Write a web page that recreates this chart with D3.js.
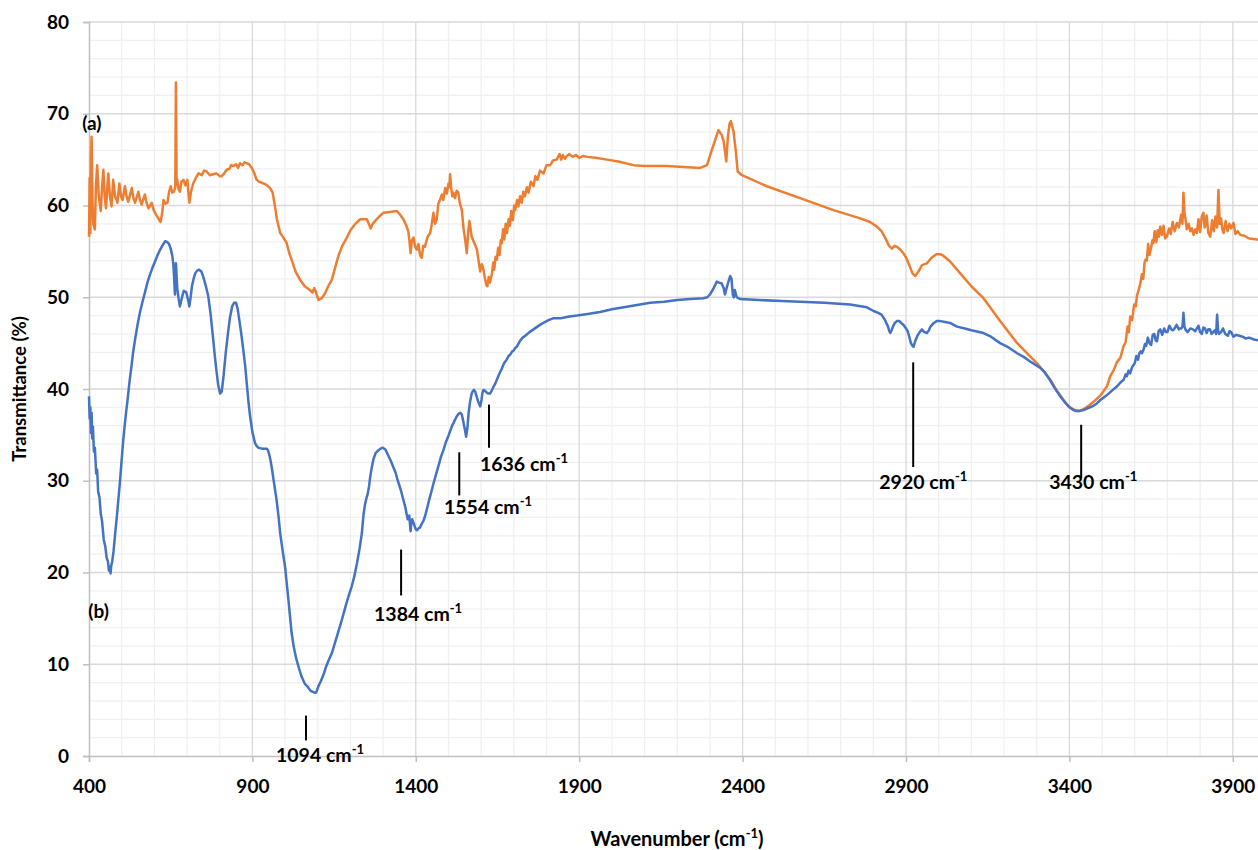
<!DOCTYPE html>
<html><head><meta charset="utf-8">
<script src="https://cdn.jsdelivr.net/npm/d3@7"></script>
<style>
html,body{margin:0;padding:0;background:#fff;overflow:hidden}
text{font-family:Lato,"Open Sans",sans-serif;font-weight:700;fill:#000}
</style></head>
<body>
<svg id="chart" width="1258" height="850"></svg>
<script>
// ---- DATA ----
const xTicks = [400, 900, 1400, 1900, 2400, 2900, 3400, 3900];
const yTicks = [0, 10, 20, 30, 40, 50, 60, 70, 80];

// (a) orange spectrum
const waveA = [400,402,404,406,408,411,413,418,421,425,430,436,440,444,448,452,456,459,464,469,474,480,487,493,498,503,510,515,520,531,536,541,551,556,561,571,576,582,592,598,605,612,619,624,628,634,640,645,650,655,660,664,666,668,670,674,678,683,689,695,701,704,707,712,719,727,735,745,752,760,770,780,790,800,806,814,821,830,835,842,850,856,862,870,876,883,890,898,905,913,920,934,945,954,962,969,975,985,995,1005,1012,1020,1032,1046,1060,1076,1084,1089,1094,1102,1112,1122,1132,1143,1153,1163,1175,1189,1200,1215,1230,1242,1250,1256,1262,1268,1275,1288,1301,1320,1342,1352,1362,1370,1377,1381,1384,1388,1393,1398,1403,1408,1413,1418,1423,1428,1436,1444,1449,1454,1459,1464,1469,1474,1480,1484,1490,1495,1500,1503,1505,1508,1512,1515,1520,1525,1530,1535,1541,1546,1551,1556,1560,1564,1567,1571,1578,1587,1592,1597,1602,1607,1612,1616,1619,1623,1627,1633,1637,1640,1644,1648,1652,1656,1660,1663,1667,1671,1675,1679,1684,1688,1692,1697,1701,1704,1710,1714,1719,1724,1729,1734,1740,1745,1752,1760,1766,1772,1780,1791,1800,1811,1820,1831,1840,1845,1850,1856,1862,1870,1880,1890,1900,1913,1925,1950,1985,2020,2066,2100,2168,2220,2270,2291,2311,2326,2336,2342,2350,2355,2360,2364,2372,2379,2385,2398,2474,2576,2678,2760,2790,2811,2825,2836,2848,2857,2865,2872,2882,2892,2902,2911,2920,2928,2938,2949,2964,2978,2993,3005,3015,3035,3066,3100,3137,3188,3240,3270,3301,3342,3362,3382,3400,3418,3430,3443,3460,3474,3495,3515,3525,3535,3545,3556,3565,3572,3578,3582,3586,3592,3598,3603,3607,3612,3617,3622,3626,3630,3633,3637,3641,3645,3650,3654,3657,3661,3666,3670,3674,3678,3683,3688,3693,3698,3705,3710,3716,3722,3729,3735,3742,3746,3749,3752,3755,3759,3765,3770,3775,3780,3785,3790,3795,3800,3805,3810,3814,3820,3825,3831,3837,3842,3847,3852,3856,3860,3864,3868,3872,3878,3884,3890,3895,3902,3908,3915,3923,3935,3950,3974,4000];
const transA = [56.6,63,57,65,67.5,60,58,57.4,62,64.4,61,59.4,62,63.9,61,59.7,62,63.5,61,59.9,62.8,61,60.3,62.4,61,60.6,62.1,61,60.4,61.9,60.8,60.3,61.5,60.6,60.1,61.2,60.3,59.7,60.3,59.5,59.0,58.6,58.2,59.2,60.6,60.2,60.3,61.5,62.1,61.4,61.5,62,73.4,62.3,62.8,61.8,61.5,62.6,62.8,62.2,62.8,61.5,60.3,61.5,62.4,63.0,63.5,63.3,63.8,63.7,63.3,63.4,63.5,63.2,63.2,63.5,63.9,64.0,64.4,64.3,64.5,64.1,64.6,64.4,64.7,64.6,64.5,64.1,63.6,62.8,62.6,62.4,62.2,61.9,61.4,59.9,58.5,57.0,56.5,55.9,54.9,54.1,52.8,51.9,51.2,50.8,50.5,51.0,50.6,49.7,49.9,50.4,51.2,51.9,53.2,54.5,55.6,56.5,57.3,58.0,58.5,58.5,58.5,58.0,57.5,58.0,58.3,58.8,59.2,59.3,59.4,59.0,58.5,57.9,57.2,56.0,54.8,56.2,56.5,55.5,55.2,55.8,54.6,54.3,55.6,55.5,56.6,57.0,58.0,59.2,58.0,58.5,60.2,60.6,61.2,60.6,61.9,61.3,62.4,62.0,63.4,62.0,61.0,61.4,60.8,61.6,61.4,60.2,59.5,57.5,56.3,54.8,57.0,58.3,57.6,56.6,56.0,55.2,54.0,52.8,53.6,53.0,52.0,51.3,51.2,52.2,51.6,52.6,53.8,53.0,54.4,54.1,55.4,54.6,56.2,55.9,57.4,56.3,58.0,57.0,58.5,57.8,59.4,58.4,60.0,59.5,60.6,59.9,61.0,60.3,61.5,61.0,62.0,61.4,62.6,62.1,63.2,62.8,63.8,63.5,64.4,64.4,64.9,65.0,65.6,65.0,65.5,65.1,65.4,65.6,65.3,65.5,65.2,65.4,65.3,65.2,65.0,64.8,64.4,64.3,64.3,64.2,64.1,64.4,66.6,68.2,67.7,67.0,64.8,67.5,68.9,69.2,68.1,66.0,63.7,63.3,62.1,60.8,59.5,58.6,58.2,57.7,57.2,56.5,55.6,55.3,55.6,55.5,55.2,54.8,54.2,53.4,52.6,52.3,52.8,53.5,53.7,54.3,54.7,54.7,54.5,53.9,52.6,51.2,49.9,47.4,45.0,43.9,42.8,41.0,39.8,38.8,38.0,37.7,37.6,37.8,38.2,38.6,39.3,40.3,41.4,42.0,42.9,43.4,44.6,45.1,46.8,46.2,47.9,47.5,49.2,49.0,50.2,50.8,51.5,52.5,52.0,53.8,54.1,54.0,55.8,54.6,55.4,56.2,55.9,57.2,56.0,57.3,56.6,57.7,56.8,57.8,56.4,56.6,57.5,56.9,58.2,57.2,58.1,57.6,59.0,58.0,61.4,59.2,58.6,57.4,58.0,57.2,57.5,56.8,57.4,57.0,58.5,57.1,58.8,59.2,57.6,58.9,57.0,56.6,58.4,57.2,58.8,57.6,61.7,58.0,58.6,57.4,57.0,58.3,57.2,58.0,57.5,58.1,56.9,57.2,56.8,56.7,56.4,56.3,56.2];

// (b) blue spectrum
const waveB = [400,402,404,406,408,410,412,415,418,422,425,428,432,436,440,445,450,454,458,461,464,466,468,471,475,480,485,490,495,500,505,512,518,524,530,535,541,548,555,563,571,578,585,593,602,610,618,626,633,640,645,650,655,658,660,663,666,668,670,674,678,682,686,690,694,697,700,704,707,711,715,720,725,731,737,744,750,757,765,772,780,785,790,795,801,806,812,818,825,831,838,844,850,855,860,866,872,878,883,888,893,900,908,913,918,930,944,948,952,955,959,966,974,980,985,992,1000,1010,1020,1027,1035,1043,1051,1060,1070,1078,1085,1090,1095,1102,1110,1118,1125,1134,1143,1154,1165,1175,1185,1195,1204,1212,1220,1228,1235,1240,1245,1249,1253,1257,1260,1265,1270,1277,1285,1292,1299,1307,1315,1323,1331,1338,1345,1354,1362,1368,1375,1380,1384,1387,1389,1393,1397,1400,1404,1408,1413,1418,1423,1428,1434,1440,1447,1454,1462,1470,1477,1485,1492,1500,1510,1518,1525,1531,1536,1541,1545,1550,1554,1558,1562,1566,1571,1575,1578,1582,1586,1591,1597,1601,1604,1607,1612,1617,1622,1627,1632,1637,1642,1648,1655,1663,1670,1678,1684,1690,1695,1700,1705,1709,1715,1720,1727,1735,1748,1760,1772,1785,1795,1806,1820,1842,1855,1870,1893,1910,1930,1964,2000,2050,2117,2160,2200,2240,2280,2292,2300,2310,2321,2328,2336,2342,2346,2351,2355,2362,2366,2370,2373,2376,2379,2382,2387,2393,2450,2520,2576,2650,2729,2780,2801,2815,2825,2836,2845,2849,2852,2856,2860,2866,2872,2880,2885,2892,2900,2905,2910,2915,2920,2923,2928,2935,2942,2949,2953,2957,2964,2970,2975,2985,2994,3005,3020,3035,3056,3080,3100,3137,3160,3188,3215,3240,3260,3280,3311,3325,3340,3355,3372,3385,3395,3405,3413,3420,3430,3443,3456,3470,3483,3495,3510,3520,3533,3546,3556,3566,3572,3576,3581,3586,3592,3600,3605,3610,3614,3618,3622,3627,3631,3635,3640,3645,3650,3655,3660,3664,3668,3673,3678,3684,3690,3695,3700,3706,3712,3716,3720,3728,3735,3738,3742,3746,3749,3752,3755,3762,3770,3778,3785,3790,3795,3800,3805,3810,3815,3820,3825,3830,3835,3840,3845,3849,3852,3855,3858,3864,3870,3877,3885,3890,3895,3902,3910,3920,3930,3940,3950,3965,3980,4000];
const transB = [39.2,36.8,38.0,35.2,37.4,34.6,35.9,33.2,33.6,30.8,31.2,28.8,28.2,26.4,25.6,23.6,22.8,21.6,21.2,20.2,20.6,19.9,20.7,21.2,22.3,24.2,26.0,28.0,30.0,32.3,34.5,37.0,38.8,40.8,42.5,44.0,45.4,46.9,48.2,49.4,50.5,51.5,52.3,53.1,53.9,54.6,55.2,55.7,56.1,56.0,55.8,55.3,54.5,53.6,52.5,50.3,53.7,52.4,51.0,49.9,49.0,49.6,50.2,50.7,50.6,50.6,50.2,49.6,49.0,50.0,51.2,52.0,52.6,52.9,53.0,52.8,52.2,51.3,50.1,48.2,45.4,43.6,42.0,40.5,39.5,39.7,41.5,43.8,46.0,47.7,49.0,49.4,49.4,48.7,47.5,46.0,44.3,42.5,40.5,38.6,37.0,35.3,34.1,33.8,33.6,33.5,33.5,33.3,32.8,32.3,31.5,29.8,27.9,26.1,24.3,22.5,20.6,17.1,13.4,11.8,10.5,9.5,8.6,7.9,7.5,7.1,7.0,6.9,6.9,7.6,8.2,8.9,9.7,10.5,11.2,12.5,13.8,15.0,16.3,17.5,18.5,19.6,21.0,22.6,24.3,26.3,27.5,28.1,28.6,29.4,30.3,31.4,32.3,33.0,33.3,33.5,33.6,33.4,32.8,32.2,31.5,30.9,30.0,29.0,27.9,27.1,25.8,26.2,24.5,25.6,25.8,25.4,25.0,24.7,24.6,24.8,24.9,25.3,25.6,26.1,26.9,27.8,28.7,29.7,30.7,31.7,32.6,33.4,34.2,34.9,35.9,36.5,37.0,37.3,37.4,37.2,36.5,35.6,34.8,35.8,37.5,38.6,39.5,39.8,39.9,39.7,39.2,38.6,38.1,38.8,39.6,39.9,39.8,39.6,39.5,39.5,39.8,40.2,40.5,41.0,41.6,42.2,42.8,43.2,43.6,43.8,44.1,44.2,44.5,44.6,45.0,45.3,45.6,45.8,46.2,46.5,46.8,47.1,47.3,47.5,47.7,47.7,47.8,47.9,48.0,48.1,48.2,48.4,48.7,49.0,49.4,49.5,49.7,49.8,49.9,50.0,50.3,50.9,51.7,51.6,51.5,51.0,50.3,51.0,51.5,52.3,52.0,50.3,50.0,50.8,50.4,50.0,49.9,49.8,49.7,49.6,49.5,49.4,49.2,48.9,48.5,48.3,48.1,47.5,46.8,46.3,46.1,46.4,46.8,47.2,47.4,47.4,47.2,47.0,46.6,46.3,45.7,45.0,44.7,44.6,45.2,45.8,46.2,46.5,46.3,46.2,46.1,46.4,46.8,47.2,47.4,47.4,47.3,47.2,46.8,46.6,46.4,46.1,45.7,45.0,44.5,43.9,43.5,43.0,42.3,41.8,41.0,40.1,39.2,38.6,38.2,37.9,37.7,37.6,37.6,37.7,37.9,38.1,38.4,38.8,39.2,39.5,39.9,40.3,40.7,41.0,41.6,41.4,42.0,41.7,42.4,42.8,43.6,43.2,43.9,44.1,43.9,44.3,44.9,44.7,45.6,45.0,44.8,45.9,46.0,45.3,45.2,46.3,46.5,45.9,46.6,46.2,46.2,46.9,46.5,46.4,46.5,47.0,46.5,46.6,46.6,46.8,48.3,46.8,46.5,46.2,46.6,46.5,46.3,46.6,46.9,46.2,46.0,46.7,46.6,46.1,46.5,46.5,46.0,46.2,46.4,46.0,48.1,46.4,46.0,46.2,46.6,46.0,45.8,46.3,46.2,45.7,45.9,45.8,45.7,45.5,45.6,45.4,45.3,45.2];

// peak annotations
const annoLabels = ["1094", "1384", "1554", "1636", "2920", "3430"];
const annoLineWave = [1064, 1355, 1533, 1624, 2922, 3436];
const annoLineTop = [4.4, 22.5, 33.1, 38.3, 42.9, 36.1];
const annoLineBottom = [1.7, 17.5, 28.4, 33.6, 31.5, 30.3];
const annoTextWave = [1107, 1407, 1621, 1731, 2953, 3473];
const annoTextValue = [0.1, 15.5, 27.1, 31.8, 29.9, 29.9];

const seriesLabels = ["(a)", "(b)"];
const seriesLabelWave = [379, 398];
const seriesLabelValue = [68.2, 15.0];

// ---- CHART ----
const svg = d3.select("#chart");
const plotLeft = 89, plotTop = 22, plotBottom = 756;
const x = d3.scaleLinear().domain([400, 4000]).range([plotLeft, plotLeft + 3600 * 163.4 / 500]);
const y = d3.scaleLinear().domain([0, 80]).range([plotBottom, plotTop]);

// grid
const gGrid = svg.append("g");
const minorX = d3.range(400, 4001, 100).filter(v => (v - 400) % 500 !== 0);
const minorY = d3.range(0, 81, 2).filter(v => v % 10 !== 0);
const majorX = d3.range(900, 4001, 500);
gGrid.selectAll("line.mx").data(minorX).join("line").attr("class", "mx")
  .attr("x1", d => x(d)).attr("x2", d => x(d)).attr("y1", plotTop).attr("y2", plotBottom)
  .attr("stroke", "#f0f0f0").attr("stroke-width", 1.3);
gGrid.selectAll("line.my").data(minorY).join("line").attr("class", "my")
  .attr("x1", plotLeft).attr("x2", 1260).attr("y1", d => y(d)).attr("y2", d => y(d))
  .attr("stroke", "#f0f0f0").attr("stroke-width", 1.3);
gGrid.selectAll("line.MX").data(majorX).join("line").attr("class", "MX")
  .attr("x1", d => x(d)).attr("x2", d => x(d)).attr("y1", plotTop).attr("y2", plotBottom)
  .attr("stroke", "#d9d9d9").attr("stroke-width", 1.3);
gGrid.selectAll("line.MY").data(yTicks.filter(v => v !== 0)).join("line").attr("class", "MY")
  .attr("x1", plotLeft).attr("x2", 1260).attr("y1", d => y(d)).attr("y2", d => y(d))
  .attr("stroke", "#d9d9d9").attr("stroke-width", 1.3);

// axes
const xAxis = d3.axisBottom(x).tickValues(xTicks).tickFormat(d3.format("d")).tickSize(6).tickPadding(18);
const gx = svg.append("g").attr("transform", `translate(0,${plotBottom})`).call(xAxis);
gx.select(".domain").attr("stroke", "#bfbfbf").attr("stroke-width", 1.5);
gx.selectAll(".tick line").attr("stroke", "#bfbfbf").attr("stroke-width", 1.5);
gx.selectAll(".tick text").style("font-size", "19px").style("font-family", "Lato").style("font-weight", 700).attr("fill", "#000");

const yAxis = d3.axisLeft(y).tickValues(yTicks).tickFormat(d3.format("d")).tickSize(6).tickPadding(14);
const gy = svg.append("g").attr("transform", `translate(${plotLeft},0)`).call(yAxis);
gy.select(".domain").attr("stroke", "#bfbfbf").attr("stroke-width", 1.5);
gy.selectAll(".tick line").attr("stroke", "#bfbfbf").attr("stroke-width", 1.5);
gy.selectAll(".tick text").style("font-size", "19px").style("font-family", "Lato").style("font-weight", 700).attr("fill", "#000");

// lines
const line = d3.line().x(d => x(d[0])).y(d => y(d[1]));
const dataA = d3.zip(waveA, transA);
const dataB = d3.zip(waveB, transB);
svg.append("path").datum(dataA).attr("d", line).attr("fill", "none")
  .attr("stroke", "#ED7D31").attr("stroke-width", 2.5).attr("stroke-linejoin", "round");
svg.append("path").datum(dataB).attr("d", line).attr("fill", "none")
  .attr("stroke", "#4472C4").attr("stroke-width", 2.5).attr("stroke-linejoin", "round");

// series labels
seriesLabels.forEach((t, i) => {
  svg.append("text").attr("x", x(seriesLabelWave[i])).attr("y", y(seriesLabelValue[i]))
    .attr("font-size", 19).text(t);
});

// annotations
annoLabels.forEach((t, i) => {
  svg.append("line").attr("x1", x(annoLineWave[i])).attr("x2", x(annoLineWave[i]))
    .attr("y1", y(annoLineTop[i])).attr("y2", y(annoLineBottom[i]))
    .attr("stroke", "#000").attr("stroke-width", 2);
  const tx = svg.append("text").attr("x", x(annoTextWave[i])).attr("y", y(annoTextValue[i]) + 7)
    .attr("text-anchor", "middle").attr("font-size", 19.5);
  tx.append("tspan").text(t + " cm");
  tx.append("tspan").attr("dy", -8).attr("font-size", 13).text("-1");
});

// axis titles
svg.append("text").attr("transform", "translate(26,389) rotate(-90)")
  .attr("text-anchor", "middle").attr("font-size", 18.5).text("Transmittance (%)");
const xt = svg.append("text").attr("x", 677).attr("y", 846).attr("text-anchor", "middle").attr("font-size", 20);
xt.append("tspan").text("Wavenumber (cm");
xt.append("tspan").attr("dy", -8).attr("font-size", 13).text("-1");
xt.append("tspan").attr("dy", 8).text(")");
</script>
</body></html>
